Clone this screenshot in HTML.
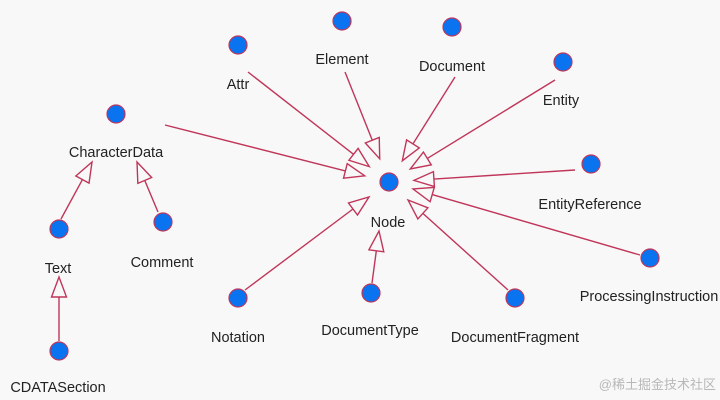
<!DOCTYPE html>
<html><head><meta charset="utf-8"><style>
html,body{margin:0;padding:0;background:#f8f8f8;}
svg{display:block;}
text{font-family:"Liberation Sans",sans-serif;font-size:14.5px;fill:#222;}
</style></head><body>
<svg id="s" width="720" height="400" xmlns="http://www.w3.org/2000/svg">
<rect width="720" height="400" fill="#f8f8f8"/>
<g id="lines" stroke="#c0365a" stroke-width="1.4" fill="#f8f8f8"></g>
<g id="dots" fill="#0a74f0" stroke="#c0365a" stroke-width="1.2"></g>
<g text-anchor="middle">
<text x="238" y="89">Attr</text>
<text x="342" y="64">Element</text>
<text x="452" y="71">Document</text>
<text x="561" y="105">Entity</text>
<text x="590" y="209">EntityReference</text>
<text x="649" y="301">ProcessingInstruction</text>
<text x="515" y="342">DocumentFragment</text>
<text x="370" y="335">DocumentType</text>
<text x="238" y="342">Notation</text>
<text x="388" y="227">Node</text>
<text x="116" y="157">CharacterData</text>
<text x="58" y="273">Text</text>
<text x="162" y="267">Comment</text>
<text x="58" y="392">CDATASection</text>
</g>
<text x="716" y="389" text-anchor="end" style="font-family:'Liberation Sans','Noto Sans CJK SC',sans-serif;font-size:13px;fill:#b8b8b8">@稀土掘金技术社区</text>
</svg>
<script>
var NS="http://www.w3.org/2000/svg";
var L=document.getElementById("lines"),D=document.getElementById("dots");
var dots=[[389,182],[238,45],[342,21],[452,27],[563,62],[591,164],[650,258],[515,298],[371,293],[238,298],[116,114],[59,229],[163,222],[59,351]];
dots.forEach(function(p){var c=document.createElementNS(NS,"circle");c.setAttribute("cx",p[0]);c.setAttribute("cy",p[1]);c.setAttribute("r",9);D.appendChild(c);});
function arrow(sx,sy,tx,ty){
 var dx=tx-sx,dy=ty-sy,l=Math.hypot(dx,dy),ux=dx/l,uy=dy/l;
 var bx=tx-ux*20,by=ty-uy*20,px=-uy*7.5,py=ux*7.5;
 var ln=document.createElementNS(NS,"line");
 ln.setAttribute("x1",sx);ln.setAttribute("y1",sy);ln.setAttribute("x2",bx);ln.setAttribute("y2",by);L.appendChild(ln);
 var pg=document.createElementNS(NS,"polygon");
 pg.setAttribute("points",tx+","+ty+" "+(bx+px)+","+(by+py)+" "+(bx-px)+","+(by-py));L.appendChild(pg);
}
var C=[389,182];
[[248,72],[345,72],[455,77],[555,80],[575,170],[640,255],[165,125]].forEach(function(s){
 var dx=C[0]-s[0],dy=C[1]-s[1],l=Math.hypot(dx,dy);
 arrow(s[0],s[1],C[0]-dx/l*25,C[1]-dy/l*25);
});
arrow(245,290,369,197);
arrow(508,290,408,200);
arrow(372,283,379,231);
arrow(61,219,92,162);
arrow(158,212,137,162);
arrow(59,341,59,277);
</script>
</body></html>
